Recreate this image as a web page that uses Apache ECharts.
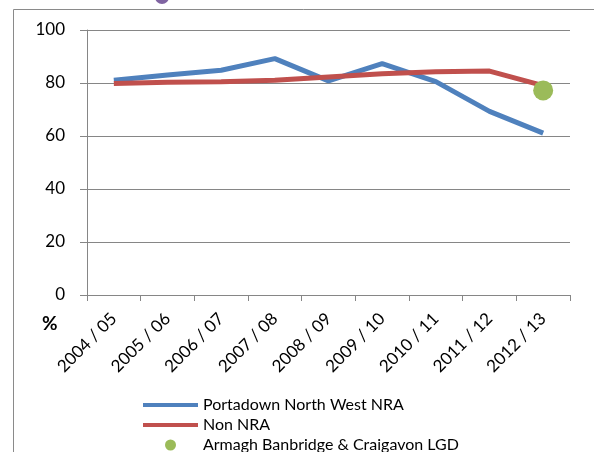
<!DOCTYPE html>
<html>
<head>
<meta charset="utf-8">
<script src="https://cdn.jsdelivr.net/npm/echarts@6/dist/echarts.min.js"></script>
<style>
  html, body { margin: 0; padding: 0; background: #fff; }
  #chart { width: 594px; height: 452px; }
</style>
</head>
<body>
<div id="chart"></div>
<script>
// data
var years = ['2004 / 05', '2005 / 06', '2006 / 07', '2007 / 08', '2008 / 09',
             '2009 / 10', '2010 / 11', '2011 / 12', '2012 / 13'];
var portadown = [81, 83, 84.8, 89.2, 80.8, 87.3, 80.5, 69.3, 61.1];
var nonNra = [79.8, 80.3, 80.5, 81, 82.3, 83.5, 84.2, 84.5, 79];
var lgd = ['-', '-', '-', '-', '-', '-', '-', '-', 77.2];
var yTicks = [0, 20, 40, 60, 80, 100];

var names = ['Portadown North West NRA', 'Non NRA', 'Armagh Banbridge & Craigavon LGD'];
var lineIcon = 'path://M0,0 L55,0 L55,4 L0,4 Z';

var myChart = echarts.init(document.getElementById('chart'));

var option = {
  animation: false,
  textStyle: { fontFamily: 'Lato' },
  grid: { left: 87, right: 24, top: 30, bottom: 157 },
  // frame lines and the odd bit of marker cut off at the top
  graphic: [
    { type: 'line', shape: { x1: 13.5, y1: 9.5, x2: 594, y2: 9.5 }, style: { stroke: '#8a8a8a', lineWidth: 1 } },
    { type: 'line', shape: { x1: 13.5, y1: 9.5, x2: 13.5, y2: 452 }, style: { stroke: '#8a8a8a', lineWidth: 1 } },
    { type: 'circle', shape: { cx: 162, cy: -3, r: 7 }, style: { fill: '#8064A2' } },
    { type: 'text', left: 42, top: 314, style: { text: '%', fontSize: 19, fontWeight: 'bold', fontFamily: 'Lato', fill: '#000' } }
  ],
  legend: {
    // horizontal + narrow width so each entry goes on its own row
    orient: 'horizontal',
    left: 143,
    top: 397,
    width: 260,
    padding: 0,
    itemWidth: 55,
    itemHeight: 11,
    itemGap: 4,
    textStyle: { fontSize: 16, color: '#000', fontFamily: 'Lato' },
    data: [
      { name: names[0], icon: lineIcon, itemStyle: { color: '#4F81BD' } },
      { name: names[1], icon: lineIcon, itemStyle: { color: '#C0504D' } },
      { name: names[2], icon: 'circle', itemStyle: { color: '#9BBB59' } }
    ]
  },
  xAxis: {
    type: 'category',
    data: years,
    boundaryGap: true,
    axisLine: { lineStyle: { color: '#868686', width: 1 } },
    axisTick: { show: true, length: 6, alignWithLabel: false, lineStyle: { color: '#868686' } },
    axisLabel: { rotate: 45, margin: 21, fontSize: 17, color: '#000', interval: 0 }
  },
  yAxis: {
    type: 'value',
    min: yTicks[0],
    max: yTicks[yTicks.length - 1],
    interval: 20,
    axisLine: { show: true, lineStyle: { color: '#868686', width: 1 } },
    axisTick: { show: true, length: 7, lineStyle: { color: '#868686' } },
    axisLabel: { margin: 22, fontSize: 17, color: '#000' },
    splitLine: { lineStyle: { color: '#868686', width: 1 } }
  },
  series: [
    {
      name: names[0],
      type: 'line',
      data: portadown,
      symbol: 'none',
      lineStyle: { color: '#4F81BD', width: 5 },
      itemStyle: { color: '#4F81BD' }
    },
    {
      name: names[1],
      type: 'line',
      data: nonNra,
      symbol: 'none',
      lineStyle: { color: '#C0504D', width: 5 },
      itemStyle: { color: '#C0504D' }
    },
    {
      name: names[2],
      type: 'scatter',
      data: lgd,
      symbolSize: 20,
      itemStyle: { color: '#9BBB59', opacity: 1 },
      z: 5
    }
  ]
};

myChart.setOption(option);
</script>
</body>
</html>
